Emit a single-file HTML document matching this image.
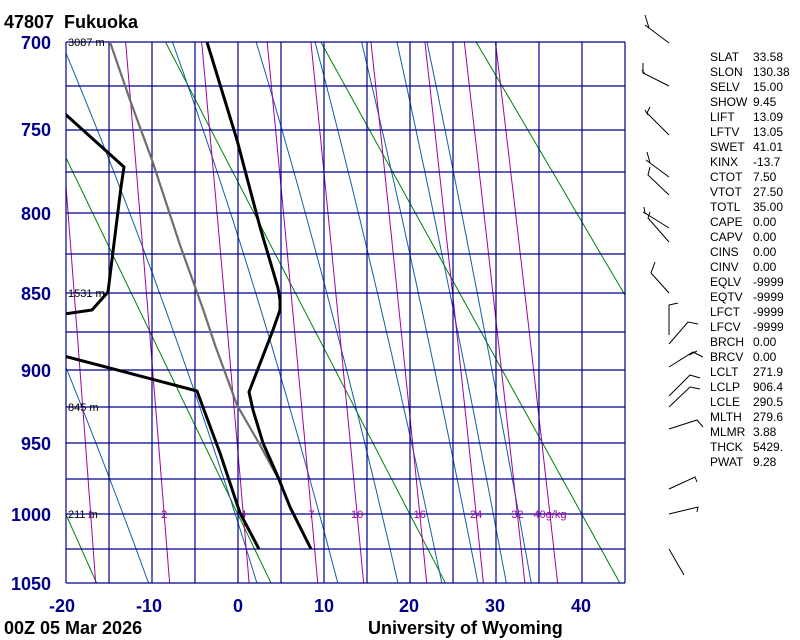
<!DOCTYPE html>
<html><head><meta charset="utf-8"><style>
html,body{margin:0;padding:0;background:#fff;}
svg{display:block;}
text{font-family:"Liberation Sans",sans-serif;}
</style></head><body>
<svg id="s" width="800" height="640" viewBox="0 0 800 640" xmlns="http://www.w3.org/2000/svg">
<defs><clipPath id="c"><rect x="66" y="42" width="559" height="541"/></clipPath></defs>
<g id="bg" clip-path="url(#c)"></g>
<g id="grid" stroke="#00008b" stroke-width="1.2" fill="none"></g>
<g font-size="11" fill="#000">
<text x="68" y="46">3087 m</text>
<text x="68" y="297">1531 m</text>
<text x="68" y="411">845 m</text>
<text x="68" y="518">211 m</text>
</g>
<g id="mrl" font-size="11" fill="#a000a0" text-anchor="middle"></g>
<g clip-path="url(#c)" fill="none" stroke-linejoin="round">
<polyline stroke="#6e6e6e" stroke-width="2.2" points="311,549 303,533 290,507 280,482 260,445 237,405 215,345 203,309 180,245 152,160 130,100 110,42"/>
<polyline stroke="#000" stroke-width="3" points="207,42 237,140 260,227 278,288 280,300 280,310 273,330 249,392 253,410 263,443 278,477 290,507 303,533 311,549"/>
<polyline stroke="#000" stroke-width="3" points="64,113 124,167 121,187 108,292 92,310 64,314"/>
<polyline stroke="#000" stroke-width="3" points="64,356 197,391 204,410 220,453 240,513 259,549"/>
</g>
<g font-size="18" font-weight="bold" fill="#000" style="white-space:pre">
<text x="4" y="28" xml:space="preserve">47807  Fukuoka</text>
<text x="4" y="634">00Z 05 Mar 2026</text>
<text x="368" y="634">University of Wyoming</text>
</g>
<g font-size="18" font-weight="bold" fill="#00008b" text-anchor="end">
<text x="51" y="49">700</text><text x="51" y="136">750</text><text x="51" y="220">800</text>
<text x="51" y="300">850</text><text x="51" y="377">900</text><text x="51" y="450">950</text>
<text x="51" y="521">1000</text><text x="51" y="590">1050</text>
</g>
<g font-size="18" font-weight="bold" fill="#00008b" text-anchor="middle">
<text x="62" y="612">-20</text><text x="149" y="612">-10</text><text x="238" y="612">0</text>
<text x="324" y="612">10</text><text x="409" y="612">20</text><text x="495" y="612">30</text><text x="581" y="612">40</text>
</g>
<g stroke="#000" stroke-width="1" fill="none">
<polyline points="669,43 649,28 645,15"/><line x1="645" y1="25" x2="649" y2="28"/>
<polyline points="669,86 643,73 643,63"/><line x1="642" y1="70" x2="645" y2="74"/>
<polyline points="669,135 647,113 650,107"/><line x1="645" y1="110" x2="648" y2="115"/>
<polyline points="669,177 650,163 647,152"/><line x1="646" y1="160" x2="650" y2="163"/>
<polyline points="669,195 648,175 650,167"/>
<polyline points="669,228 645,213 644,207"/><line x1="643" y1="212" x2="646" y2="214"/>
<polyline points="669,242 648,218 650,212"/>
<polyline points="669,293 651,273 655,262"/>
<polyline points="669,335 669,305 678,303"/>
<polyline points="669,344 688,322 698,324"/>
<polyline points="669,367 693,352 703,357"/><line x1="689" y1="355" x2="697" y2="351"/>
<polyline points="669,396 690,375 700,378"/><polyline points="669,407 690,387 700,389"/>
<polyline points="669,429 697,420 703,427"/>
<polyline points="669,489 695,477 697,482"/>
<polyline points="669,514 698,507 697,512"/>
<line x1="669" y1="549" x2="684" y2="575"/>
</g>
<g id="stats" font-size="12" fill="#000"></g>
</svg>
<script>
var k=0.286,a=Math.pow(700,k),b=Math.pow(1050,k);
function Y(p){return 42+(Math.pow(p,k)-a)/(b-a)*541;}
function X(T){return 66+(T+20)*8.6;}
var NS="http://www.w3.org/2000/svg";
function el(par,tag,at,txt){var e=document.createElementNS(NS,tag);for(var n in at)e.setAttribute(n,at[n]);if(txt!=null)e.textContent=txt;document.getElementById(par).appendChild(e);return e;}
for(var th=233.15;th<=373.15;th+=20){var pts=[];for(var p=1050;p>=700;p-=5){pts.push(X(th*Math.pow(p/1000,k)-273.15).toFixed(1)+","+Y(p).toFixed(1));}
el("bg","polyline",{points:pts.join(" "),fill:"none",stroke:"#008000","stroke-width":"1"});}
function es(T){return 6.112*Math.exp(17.67*T/(T+243.5));}
var starts=[-10.4,2.2,11.6,18.6,23.7,27.9,31.2,34.1];
starts.forEach(function(T0){var T=T0+273.15,pts=[];for(var p=1050;p>=700;p-=1){
 if(p%5==0)pts.push(X(T-273.15).toFixed(1)+","+Y(p).toFixed(1));
 var e=es(T-273.15),rs=0.622*e/(p-e),L=2.5e6,Rd=287,cp=1004;
 var dTdp=(Rd*T+L*rs)/p/(cp+L*L*rs*0.622/(Rd*T*T));T-=dTdp;}
el("bg","polyline",{points:pts.join(" "),fill:"none",stroke:"#1060a0","stroke-width":"1"});});
[1,2,4,7,10,16,24,32,40].forEach(function(w){var pts=[];for(var p=1050;p>=700;p-=5){var e=w*p/(622+w),l=Math.log(e/6.112),Td=243.5*l/(17.67-l);pts.push(X(Td).toFixed(1)+","+Y(p).toFixed(1));}
el("bg","polyline",{points:pts.join(" "),fill:"none",stroke:"#a000a0","stroke-width":"1"});
var e=w*1000/(622+w),l=Math.log(e/6.112),Td=243.5*l/(17.67-l);
el("mrl","text",{x:X(Td).toFixed(1),y:518},w==40?"40g/kg":String(w));});
[42,86,130,172,213,254,293,332,370,407,443,479,514,549,583].forEach(function(y){el("grid","line",{x1:66,x2:625,y1:y,y2:y});});
for(var i=0;i<14;i++){var x=66+i*43;if(i==13)x=625;el("grid","line",{x1:x,x2:x,y1:42,y2:583});}
var st=[["SLAT","33.58"],["SLON","130.38"],["SELV","15.00"],["SHOW","9.45"],["LIFT","13.09"],["LFTV","13.05"],["SWET","41.01"],["KINX","-13.7"],["CTOT","7.50"],["VTOT","27.50"],["TOTL","35.00"],["CAPE","0.00"],["CAPV","0.00"],["CINS","0.00"],["CINV","0.00"],["EQLV","-9999"],["EQTV","-9999"],["LFCT","-9999"],["LFCV","-9999"],["BRCH","0.00"],["BRCV","0.00"],["LCLT","271.9"],["LCLP","906.4"],["LCLE","290.5"],["MLTH","279.6"],["MLMR","3.88"],["THCK","5429."],["PWAT","9.28"]];
st.forEach(function(r,i){el("stats","text",{x:710,y:61+i*15},r[0]);el("stats","text",{x:753,y:61+i*15},r[1]);});
</script>
</body></html>
